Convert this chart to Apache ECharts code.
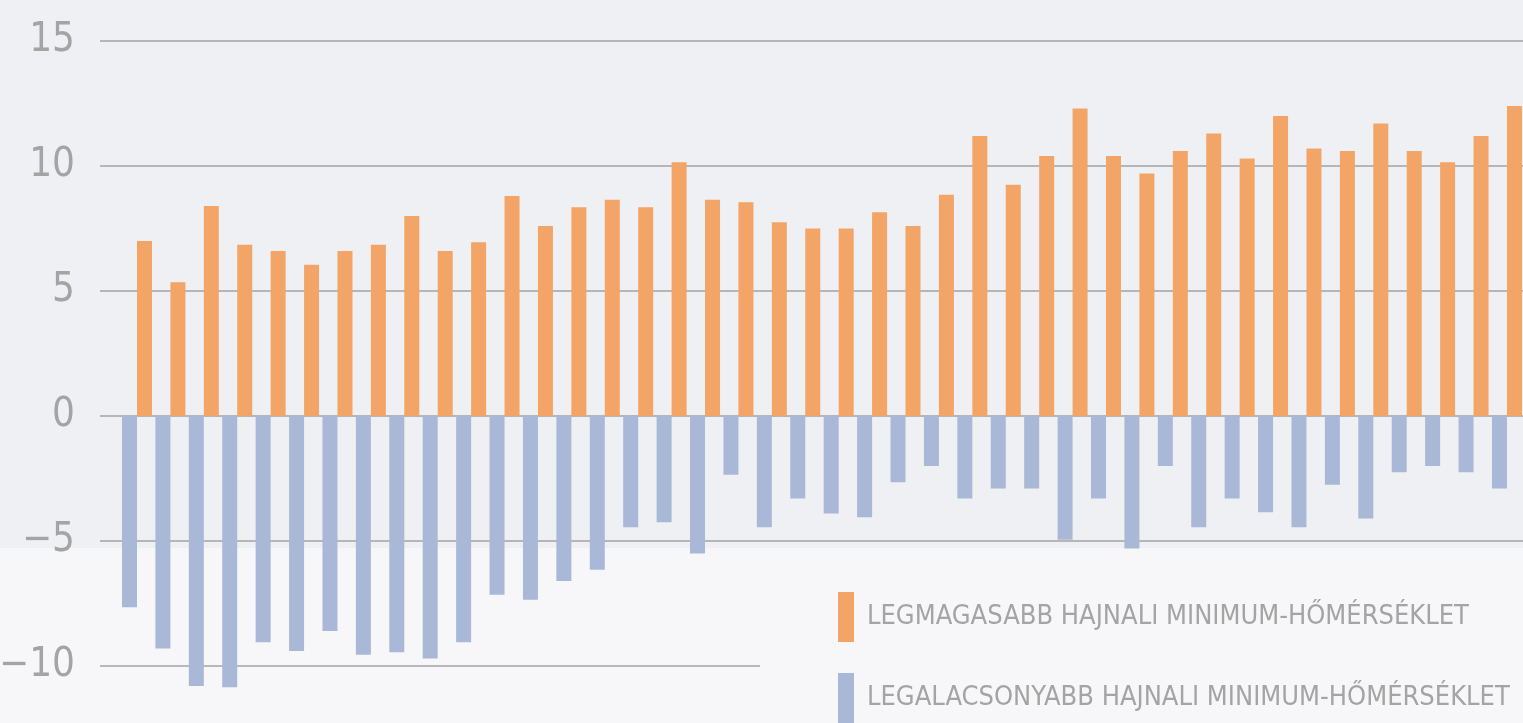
<!DOCTYPE html>
<html>
<head>
<meta charset="utf-8">
<script src="https://cdn.jsdelivr.net/npm/echarts@6/dist/echarts.min.js"></script>
<style>
  html, body { margin: 0; padding: 0; background: #eff0f3; }
  #chart { width: 1523px; height: 723px; }
</style>
</head>
<body>
<div id="chart"></div>
<script>
// legmagasabb / legalacsonyabb hajnali minimum-hőmérséklet, évenként (42 év)
const maxVals = [7.0, 5.35, 8.4, 6.85, 6.6, 6.05, 6.6, 6.85, 8.0, 6.6, 6.95, 8.8, 7.6, 8.35, 8.65, 8.35, 10.15, 8.65, 8.55, 7.75, 7.5, 7.5, 8.15, 7.6, 8.85, 11.2, 9.25, 10.4, 12.3, 10.4, 9.7, 10.6, 11.3, 10.3, 12.0, 10.7, 10.6, 11.7, 10.6, 10.15, 11.2, 12.4]
const minVals = [-7.65, -9.3, -10.8, -10.85, -9.05, -9.4, -8.6, -9.55, -9.45, -9.7, -9.05, -7.15, -7.35, -6.6, -6.15, -4.45, -4.25, -5.5, -2.35, -4.45, -3.3, -3.9, -4.05, -2.65, -2.0, -3.3, -2.9, -2.9, -4.95, -3.3, -5.3, -2.0, -4.45, -3.3, -3.85, -4.45, -2.75, -4.1, -2.25, -2.0, -2.25, -2.9]
const yTicks = [-10, -5, 0, 5, 10, 15]

const maxName = 'LEGMAGASABB HAJNALI MINIMUM-HŐMÉRSÉKLET'
const minName = 'LEGALACSONYABB HAJNALI MINIMUM-HŐMÉRSÉKLET'

const orange = '#f2a566'
const blue = '#a9b8d6'
const gray = '#a4a4a4'
const font = '"DejaVu Sans Condensed", "DejaVu Sans", sans-serif'

const chart = echarts.init(document.getElementById('chart'))

const legendBase = {
  orient: 'vertical',
  left: 838,
  padding: 0,
  icon: 'rect',
  itemWidth: 16,
  itemHeight: 50,
  textStyle: { color: gray, fontSize: 27, fontFamily: font, padding: [0, 0, 0, 8] },
}

chart.setOption({
  backgroundColor: '#eff0f3',
  animation: false,
  graphic: [
    // világosabb alsó sáv
    { type: 'rect', z: -1, shape: { x: 0, y: 548, width: 1523, height: 175 }, style: { fill: '#f7f7f9' } },
    // jelmagyarázat háttere
    { type: 'rect', z: 1, shape: { x: 760, y: 555, width: 763, height: 168 }, style: { fill: '#f7f7f9' } },
  ],
  legend: [
    { ...legendBase, top: 592, data: [maxName] },
    { ...legendBase, top: 673, data: [minName] },
  ],
  grid: { left: 100, right: 0, top: 41, bottom: 57, outerBoundsMode: 'none' },
  xAxis: {
    type: 'value',
    min: -1.107,
    max: 41.48,
    show: false,
  },
  yAxis: {
    type: 'value',
    min: yTicks[0],
    max: yTicks[yTicks.length - 1],
    interval: 5,
    axisLine: { show: false },
    axisTick: { show: false },
    splitLine: { lineStyle: { color: '#a3a3a3', width: 1.5 } },
    axisLabel: {
      margin: 25,
      color: gray,
      fontSize: 40,
      fontFamily: font,
      formatter(v) { return v < 0 ? '−' + Math.abs(v) : String(v) },
    },
  },
  series: [
    {
      name: minName,
      type: 'bar',
      clip: false,
      barWidth: 15,
      barGap: '0%',
      itemStyle: { color: blue },
      data: minVals.map((v, i) => [i, v]),
    },
    {
      name: maxName,
      type: 'bar',
      clip: false,
      barWidth: 15,
      barGap: '0%',
      itemStyle: { color: orange },
      data: maxVals.map((v, i) => [i, v]),
    },
  ],
})
</script>
</body>
</html>
